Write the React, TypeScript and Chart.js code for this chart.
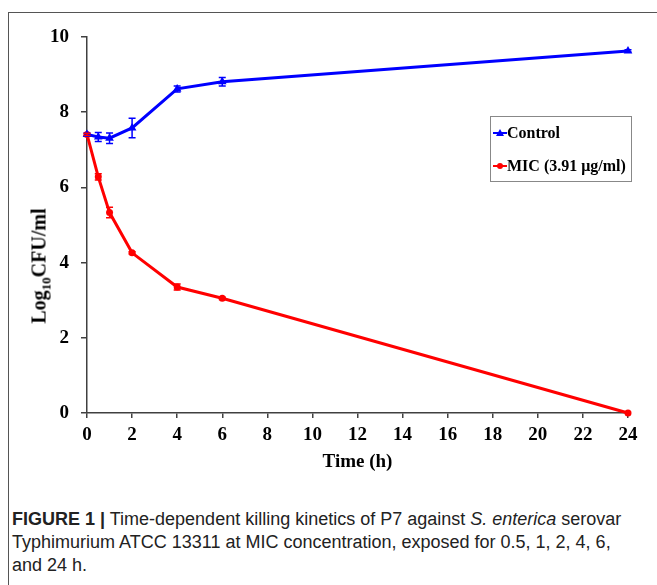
import React, { useEffect, useRef } from "react";
import { Chart, registerables } from "chart.js";

Chart.register(...registerables);

const timeHours = [0, 0.5, 1, 2, 4, 6, 24];
const controlValues = [7.41, 7.34, 7.31, 7.58, 8.62, 8.81, 9.63];
const controlErrors = [0.04, 0.12, 0.14, 0.26, 0.08, 0.11, 0.03];
const micValues = [7.41, 6.28, 5.33, 4.26, 3.35, 3.05, 0];
const micErrors = [0.03, 0.08, 0.14, 0.03, 0.08, 0.03, 0];
const xTicks = [0, 2, 4, 6, 8, 10, 12, 14, 16, 18, 20, 22, 24];
const yTicks = [0, 2, 4, 6, 8, 10];
const seriesNames = ["Control", "MIC (3.91 μg/ml)"];

const SERIF = "'Liberation Serif', 'Times New Roman', serif";

const errorBarPlugin = {
  id: "errorBars",
  afterDatasetsDraw(chart: any) {
    const ctx = chart.ctx;
    const xs = chart.scales.x;
    const ys = chart.scales.y;
    const sets = [
      { vals: controlValues, errs: controlErrors, color: "#0000ff" },
      { vals: micValues, errs: micErrors, color: "#ff0000" },
    ];
    ctx.save();
    ctx.lineWidth = 1.5;
    for (const s of sets) {
      ctx.strokeStyle = s.color;
      s.vals.forEach((v, i) => {
        const e = s.errs[i];
        if (!e) return;
        const x = xs.getPixelForValue(timeHours[i]);
        const y1 = ys.getPixelForValue(v + e);
        const y2 = ys.getPixelForValue(v - e);
        ctx.beginPath();
        ctx.moveTo(x, y1);
        ctx.lineTo(x, y2);
        ctx.moveTo(x - 3.5, y1);
        ctx.lineTo(x + 3.5, y1);
        ctx.moveTo(x - 3.5, y2);
        ctx.lineTo(x + 3.5, y2);
        ctx.stroke();
      });
    }
    ctx.restore();
  },
};

function ChartCanvas() {
  const ref = useRef<HTMLCanvasElement | null>(null);
  useEffect(() => {
    if (!ref.current) return;
    const chart = new Chart(ref.current, {
      type: "line",
      data: {
        datasets: [
          {
            label: seriesNames[0],
            data: timeHours.map((t, i) => ({ x: t, y: controlValues[i] })),
            borderColor: "#0000ff",
            backgroundColor: "#0000ff",
            borderWidth: 3,
            pointStyle: "triangle",
            pointRadius: 5,
            pointBorderWidth: 0,
            tension: 0,
            clip: false as any,
          },
          {
            label: seriesNames[1],
            data: timeHours.map((t, i) => ({ x: t, y: micValues[i] })),
            borderColor: "#ff0000",
            backgroundColor: "#ff0000",
            borderWidth: 3,
            pointStyle: "circle",
            pointRadius: 3.5,
            pointBorderWidth: 0,
            tension: 0,
            clip: false as any,
          },
        ],
      },
      options: {
        animation: false,
        responsive: false,
        devicePixelRatio: 1,
        layout: { padding: { left: 0, right: 29, top: 37, bottom: 7 } },
        plugins: { legend: { display: false }, tooltip: { enabled: false } },
        scales: {
          x: {
            type: "linear",
            min: 0,
            max: 24,
            afterBuildTicks: (s: any) => {
              s.ticks = xTicks.map((v) => ({ value: v }));
            },
            afterFit: (s: any) => {
              s.height = 60;
            },
            ticks: {
              color: "#000",
              font: { family: SERIF, size: 19, weight: "bold" },
              padding: 6,
              maxRotation: 0,
            },
            grid: { drawOnChartArea: false, drawTicks: true, tickLength: 5, color: "#404040", lineWidth: 1.5 },
            border: { color: "#404040", width: 1.5 },
            title: {
              display: true,
              text: "Time (h)",
              color: "#000",
              font: { family: SERIF, size: 19, weight: "bold" },
              padding: { top: 0, bottom: 0 },
            },
          },
          y: {
            type: "linear",
            min: 0,
            max: 10,
            afterBuildTicks: (s: any) => {
              s.ticks = yTicks.map((v) => ({ value: v }));
            },
            afterFit: (s: any) => {
              s.width = 87;
            },
            ticks: {
              color: "#000",
              font: { family: SERIF, size: 19, weight: "bold" },
              padding: 12,
            },
            grid: { drawOnChartArea: false, drawTicks: true, tickLength: 6, color: "#404040", lineWidth: 1.5 },
            border: { color: "#404040", width: 1.5 },
          },
        },
      } as any,
      plugins: [errorBarPlugin],
    });
    return () => chart.destroy();
  }, []);
  return (
    <canvas
      ref={ref}
      width={657}
      height={480}
      style={{ position: "absolute", left: 0, top: 0, width: 657, height: 480 }}
    />
  );
}

export default function App() {
  return (
    <div
      style={{
        position: "fixed",
        left: 0,
        top: 0,
        width: 657,
        height: 585,
        background: "#fff",
        overflow: "hidden",
      }}
    >
      <div
        style={{
          position: "absolute",
          left: 8,
          top: 12,
          right: -2,
          bottom: -2,
          borderTop: "1px solid #555",
          borderLeft: "1px solid #555",
        }}
      />
      <ChartCanvas />
      <div
        style={{
          position: "absolute",
          left: 41,
          top: 266,
          transform: "translate(-50%, -50%) rotate(-90deg)",
          fontFamily: SERIF,
          fontWeight: "bold",
          fontSize: 20,
          whiteSpace: "nowrap",
          color: "#000",
        }}
      >
        Log<sub style={{ fontSize: 13 }}>10</sub>CFU/ml
      </div>
      <div
        style={{
          position: "absolute",
          left: 490,
          top: 116,
          width: 142,
          height: 66,
          border: "1px solid #888",
          boxSizing: "border-box",
          fontFamily: SERIF,
          fontWeight: "bold",
          fontSize: 16,
          color: "#000",
        }}
      >
        <div style={{ position: "absolute", left: 2, top: 7, display: "flex", alignItems: "center", whiteSpace: "nowrap" }}>
          <svg width={14} height={10}>
            <line x1={0} y1={5} x2={14} y2={5} stroke="#0000ff" strokeWidth={2} />
            <polygon points="7,1 11,8 3,8" fill="#0000ff" />
          </svg>
          <span>{seriesNames[0]}</span>
        </div>
        <div style={{ position: "absolute", left: 2, top: 40, display: "flex", alignItems: "center", whiteSpace: "nowrap" }}>
          <svg width={14} height={10}>
            <line x1={0} y1={5} x2={14} y2={5} stroke="#ff0000" strokeWidth={2} />
            <circle cx={7} cy={5} r={3} fill="#ff0000" />
          </svg>
          <span>{seriesNames[1]}</span>
        </div>
      </div>
      <div
        style={{
          position: "absolute",
          left: 12,
          top: 508,
          width: 645,
          whiteSpace: "nowrap",
          fontFamily: "'Liberation Sans', Arial, sans-serif",
          fontSize: 18,
          lineHeight: "23px",
          color: "#222",
        }}
      >
        <b>FIGURE 1 |</b> Time-dependent killing kinetics of P7 against <i>S. enterica</i> serovar
        <br />
        Typhimurium ATCC 13311 at MIC concentration, exposed for 0.5, 1, 2, 4, 6,
        <br />
        and 24 h.
      </div>
    </div>
  );
}
